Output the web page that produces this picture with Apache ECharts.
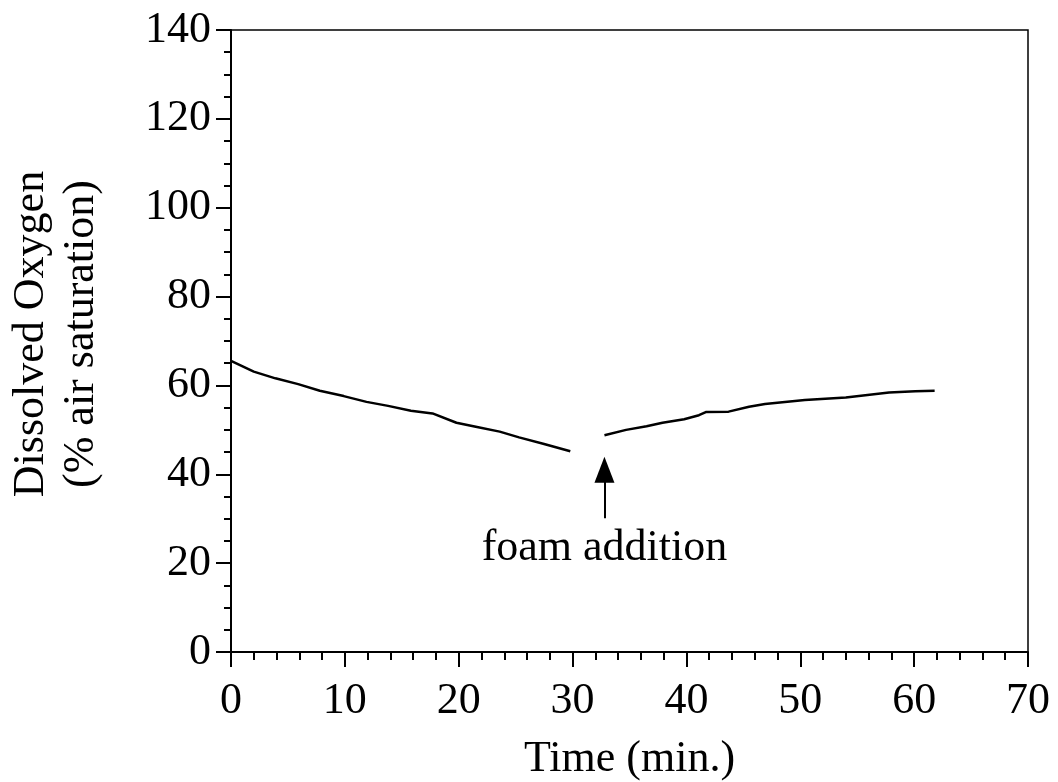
<!DOCTYPE html>
<html><head><meta charset="utf-8">
<script src="https://cdn.jsdelivr.net/npm/echarts@6/dist/echarts.min.js"></script>
<style>html,body{margin:0;padding:0;background:#fff}#c{width:1058px;height:782px}</style>
</head><body><div id="c"></div>
<script>
// Before foam addition: [time (min), dissolved O2 (% air sat)]
const beforeFoam = [
  [0, 65.5], [2, 63.1], [3.9, 61.6], [5.9, 60.3], [7.8, 58.8], [9.9, 57.6],
  [11.9, 56.3], [13.8, 55.4], [15.8, 54.3], [17.7, 53.7], [19.8, 51.6],
  [21.5, 50.7], [23.6, 49.6], [25.3, 48.3], [27.5, 46.8], [29.8, 45.2]
];
// After foam addition
const afterFoam = [
  [32.8, 48.8], [34.7, 50.0], [36.5, 50.8], [37.9, 51.6], [39.8, 52.4],
  [41.1, 53.3], [41.7, 54.0], [43.7, 54.1], [45.5, 55.2], [46.9, 55.8],
  [50.4, 56.7], [54.0, 57.3], [57.8, 58.4], [60.1, 58.7], [61.8, 58.8]
];
const arrowX = 32.8;
const arrowFrom = 30.1;
const arrowTo = 41.0;
const annotation = 'foam addition';
const xTitle = 'Time (min.)';
const yTitle = 'Dissolved Oxygen\n(% air saturation)';

const FONT = 'Liberation Serif';
const FS = 44;
const chart = echarts.init(document.getElementById('c'), null, {renderer: 'canvas'});
chart.setOption({
  backgroundColor: '#fff',
  animation: false,
  grid: {left: 231, top: 30, right: 30, bottom: 130, containLabel: false, outerBoundsMode: 'none',
         show: true, borderColor: '#000', borderWidth: 1.5, backgroundColor: 'transparent'},
  xAxis: {
    type: 'value', min: 0, max: 70, interval: 10,
    name: xTitle, nameLocation: 'middle', nameGap: 85,
    nameTextStyle: {fontFamily: FONT, fontSize: FS, color: '#000'},
    axisLine: {show: true, onZero: false, lineStyle: {color: '#000', width: 2}},
    axisTick: {show: true, inside: false, length: 15, lineStyle: {color: '#000', width: 2}},
    minorTick: {show: true, splitNumber: 5, length: 8, lineStyle: {color: '#000', width: 2}},
    splitLine: {show: false},
    axisLabel: {fontFamily: FONT, fontSize: FS, color: '#000', margin: 27}
  },
  yAxis: {
    type: 'value', min: 0, max: 140, interval: 20,
    name: yTitle, nameLocation: 'middle', nameGap: 125, nameRotate: 90,
    nameTextStyle: {fontFamily: FONT, fontSize: FS, color: '#000', lineHeight: 50, align: 'center', padding: [0, 0, 0, 14]},
    axisLine: {show: true, onZero: false, lineStyle: {color: '#000', width: 2}},
    axisTick: {show: true, inside: false, length: 15, lineStyle: {color: '#000', width: 2}},
    minorTick: {show: true, splitNumber: 4, length: 7, lineStyle: {color: '#000', width: 2}},
    splitLine: {show: false},
    axisLabel: {fontFamily: FONT, fontSize: FS, color: '#000', margin: 20}
  },
  series: [
    {type: 'line', data: beforeFoam, showSymbol: false, lineStyle: {color: '#000', width: 2.5}},
    {type: 'line', data: afterFoam, showSymbol: false, lineStyle: {color: '#000', width: 2.5},
     markLine: {
       silent: true, animation: false,
       symbol: ['none', 'triangle'], symbolSize: [20, 26],
       lineStyle: {color: '#000', width: 2, type: 'solid'},
       label: {show: true, position: 'start', formatter: annotation, fontFamily: FONT, fontSize: FS, color: '#000', distance: 8},
       data: [[{coord: [arrowX, arrowFrom]}, {coord: [arrowX, arrowTo]}]]
     }}
  ]
});
</script></body></html>
